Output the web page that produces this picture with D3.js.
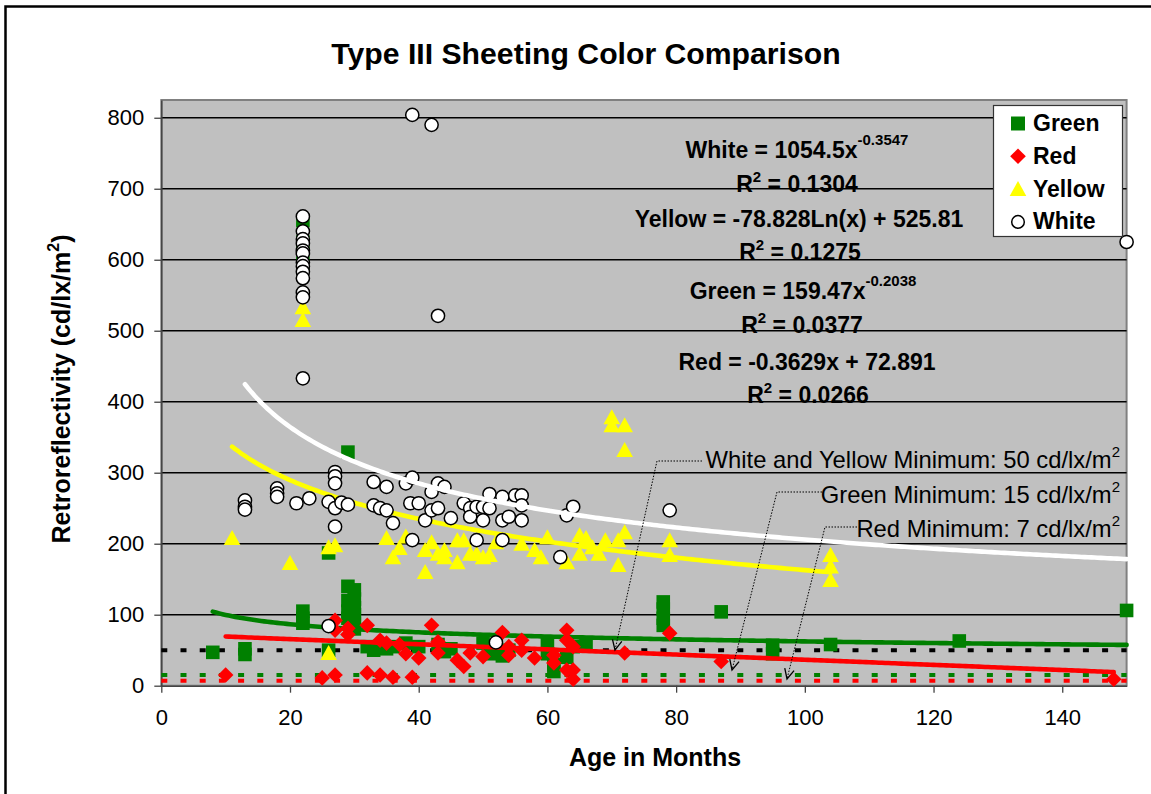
<!DOCTYPE html>
<html>
<head>
<meta charset="utf-8">
<script src="https://cdn.jsdelivr.net/npm/d3@7"></script>
<style>
  body { margin: 0; background: #fff; }
</style>
</head>
<body>
<script>
// Data: [age in months, retroreflectivity]
const greenPts = [
  [8, 47], [13, 52], [13, 44], [22, 105], [22, 95], [22, 88], [22, 655], [22, 625], [22, 595],
  [26, 187], [26, 50], [29, 329], [29, 140], [29, 120], [29, 105], [29, 95],
  [30, 135], [30, 122], [30, 110], [30, 100], [30, 88], [30, 80],
  [32, 55], [33, 50], [35, 52], [36, 55], [38, 60], [40, 55], [43, 58], [44, 48], [45, 52],
  [50, 60], [51, 45], [53, 42], [54, 50], [60, 60], [60, 45], [61, 30], [61, 20],
  [63, 40], [64, 55], [66, 60], [78, 118], [78, 108], [78, 95], [78, 85], [87, 104],
  [95, 57], [95, 45], [104, 58], [124, 63], [150, 106]
];
const redPts = [
  [10, 15], [25, 11], [27, 15], [27, 92], [27, 78], [29, 81], [29, 72], [32, 85], [32, 18],
  [34, 64], [34, 15], [35, 60], [36, 12], [37, 58], [38, 45], [39, 12], [40, 39], [42, 85],
  [43, 62], [43, 46], [46, 36], [47, 27], [48, 46], [50, 41], [53, 75], [54, 55], [54, 43],
  [56, 64], [56, 50], [58, 39], [61, 43], [61, 32], [63, 78], [63, 64], [64, 55], [63, 22],
  [64, 22], [64, 9], [72, 46], [79, 74], [87, 34], [148, 9]
];
const yellowPts = [
  [11, 208], [20, 173], [22, 533], [22, 515], [26, 195], [27, 198], [26, 46], [35, 208],
  [36, 181], [37, 194], [38, 210], [41, 160], [41, 191], [42, 202], [43, 186], [44, 181],
  [44, 191], [46, 174], [46, 205], [47, 205], [48, 186], [49, 186], [50, 181], [51, 184],
  [52, 202], [56, 200], [58, 191], [59, 181], [60, 209], [63, 174], [65, 212], [65, 186],
  [66, 208], [67, 195], [68, 186], [69, 205], [71, 170], [71, 205], [72, 216], [70, 378],
  [70, 367], [72, 367], [72, 332], [79, 205], [79, 184], [104, 184], [104, 168], [104, 149]
];
const whitePts = [
  [13, 261], [13, 252], [13, 248], [18, 278], [18, 271], [18, 266], [21, 257], [23, 264],
  [22, 661], [22, 640], [22, 629], [22, 623], [22, 613], [22, 609], [22, 596], [22, 591],
  [22, 583], [22, 574], [22, 554], [22, 547], [22, 433],
  [26, 84], [26, 259], [27, 301], [27, 295], [27, 285], [27, 250], [27, 224], [28, 258], [29, 255],
  [33, 287], [33, 254], [34, 250], [35, 280], [35, 247], [36, 229], [38, 285], [39, 293],
  [38.7, 257], [40, 257], [39, 205], [41, 233], [42, 273], [42, 247], [43, 285], [43, 250],
  [44, 280], [45, 236], [39, 804], [42, 790], [43, 521],
  [47, 257], [48, 250], [48, 238], [49, 252], [49, 205], [50, 252], [50, 233], [51, 270],
  [51, 250], [52, 61], [53, 266], [53, 233], [53, 205], [54, 238], [55, 268], [56, 268],
  [56, 254], [56, 233], [62, 181], [63, 240], [64, 252], [79, 247], [150, 625]
];

// Trendline equations shown on the chart
const whiteTrend = { kind: "power", a: 1054.5, b: -0.3547, from: 13, to: 150 };
const yellowTrend = { kind: "log", a: -78.828, b: 525.81, from: 11, to: 104 };
const greenTrend = { kind: "power", a: 159.47, b: -0.2038, from: 8, to: 150 };
const redTrend = { kind: "linear", a: -0.3629, b: 72.891, from: 10, to: 148 };

const minimums = [
  { label: "White and Yellow Minimum: 50 cd/lx/m", value: 50, color: "#000" },
  { label: "Green Minimum: 15 cd/lx/m", value: 15, color: "#008000" },
  { label: "Red Minimum: 7 cd/lx/m", value: 7, color: "#ff0000" }
];

const xTicks = [0, 20, 40, 60, 80, 100, 120, 140];
const yTicks = [0, 100, 200, 300, 400, 500, 600, 700, 800];

const W = 1151, H = 794;
const FONT = "'Liberation Sans', Arial, Helvetica, sans-serif";
const plot = { left: 161.3, right: 1126.6, top: 100, bottom: 685.7 };

const svg = d3.select("body").append("svg")
  .attr("width", W)
  .attr("height", H)
  .style("font-family", FONT);

svg.append("rect").attr("width", W).attr("height", H).attr("fill", "#fff");
// chart frame (runs off the right and bottom of the picture)
svg.append("rect")
  .attr("x", 5.5).attr("y", 6.5).attr("width", 1200).attr("height", 900)
  .attr("fill", "none").attr("stroke", "#000").attr("stroke-width", 2.5);

const x = d3.scaleLinear().domain([0, 150]).range([plot.left, plot.right]);
const y = d3.scaleLinear().domain([0, 825]).range([plot.bottom, plot.top]);

svg.append("rect")
  .attr("x", plot.left).attr("y", plot.top)
  .attr("width", plot.right - plot.left).attr("height", plot.bottom - plot.top)
  .attr("fill", "#c0c0c0").attr("stroke", "#808080").attr("stroke-width", 2);

// gridlines
svg.append("g").selectAll("line")
  .data(yTicks.filter(d => d > 0))
  .join("line")
  .attr("x1", plot.left).attr("x2", plot.right)
  .attr("y1", d => y(d)).attr("y2", d => y(d))
  .attr("stroke", "#000").attr("stroke-width", 1.6);

// axes
const yAxis = svg.append("g")
  .attr("transform", `translate(${plot.left},0)`)
  .call(d3.axisLeft(y).tickValues(yTicks).tickSize(7).tickSizeOuter(0).tickPadding(10));
const xAxis = svg.append("g")
  .attr("transform", `translate(0,${plot.bottom})`)
  .call(d3.axisBottom(x).tickValues(xTicks).tickSize(7).tickSizeOuter(0).tickPadding(17));
[xAxis, yAxis].forEach(g => {
  g.attr("font-family", FONT).attr("font-size", 22);
  g.select(".domain").attr("stroke", "#444").attr("stroke-width", 1.5);
  g.selectAll(".tick line").attr("stroke", "#444").attr("stroke-width", 1.3);
  g.selectAll(".tick text").attr("fill", "#000");
});

// minimum lines
svg.append("g").selectAll("line")
  .data(minimums)
  .join("line")
  .attr("x1", x(0)).attr("x2", x(150))
  .attr("y1", d => y(d.value)).attr("y2", d => y(d.value))
  .attr("stroke", d => d.color).attr("stroke-width", 4)
  .attr("stroke-dasharray", "6,13.2");

// markers
const squarePath = "M-6.8,-6.8H6.8V6.8H-6.8Z";
const diamondPath = "M0,-7.8L7.8,0L0,7.8L-7.8,0Z";
const trianglePath = "M0,-8L8.3,7H-8.3Z";

function trendPoints(t) {
  const f = t.kind === "power" ? v => t.a * Math.pow(v, t.b)
    : t.kind === "log" ? v => t.a * Math.log(v) + t.b
    : v => t.a * v + t.b;
  return d3.range(t.from, t.to, 0.5).concat([t.to]).map(v => [v, f(v)]);
}
const line = d3.line().x(d => x(d[0])).y(d => y(d[1]));

function drawTrend(t, color) {
  svg.append("path")
    .attr("d", line(trendPoints(t)))
    .attr("fill", "none").attr("stroke", color)
    .attr("stroke-width", 4.6).attr("stroke-linecap", "round");
}

svg.append("g").selectAll("path").data(greenPts).join("path")
  .attr("d", squarePath).attr("fill", "#008000")
  .attr("transform", d => `translate(${x(d[0])},${y(d[1])})`);
drawTrend(greenTrend, "#008000");

svg.append("g").selectAll("path").data(redPts).join("path")
  .attr("d", diamondPath).attr("fill", "#ff0000")
  .attr("transform", d => `translate(${x(d[0])},${y(d[1])})`);
drawTrend(redTrend, "#ff0000");

svg.append("g").selectAll("path").data(yellowPts).join("path")
  .attr("d", trianglePath).attr("fill", "#ffff00")
  .attr("transform", d => `translate(${x(d[0])},${y(d[1])})`);
drawTrend(yellowTrend, "#ffff00");

svg.append("g").selectAll("circle").data(whitePts).join("circle")
  .attr("cx", d => x(d[0])).attr("cy", d => y(d[1])).attr("r", 6.6)
  .attr("fill", "#fff").attr("stroke", "#000").attr("stroke-width", 1.5);
drawTrend(whiteTrend, "#fff");

// equation labels
const eqLines = [
  { cx: 797, by: 158, parts: [["White = 1054.5x"], ["-0.3547", "sup"]] },
  { cx: 797, by: 192, parts: [["R"], ["2", "sq"], [" = 0.1304"]] },
  { cx: 799, by: 227, parts: [["Yellow = -78.828Ln(x) + 525.81"]] },
  { cx: 800, by: 260, parts: [["R"], ["2", "sq"], [" = 0.1275"]] },
  { cx: 803, by: 299, parts: [["Green = 159.47x"], ["-0.2038", "sup"]] },
  { cx: 802, by: 333, parts: [["R"], ["2", "sq"], [" = 0.0377"]] },
  { cx: 807, by: 370, parts: [["Red = -0.3629x + 72.891"]] },
  { cx: 808, by: 403, parts: [["R"], ["2", "sq"], [" = 0.0266"]] }
];
eqLines.forEach(l => {
  const t = svg.append("text")
    .attr("x", l.cx).attr("y", l.by)
    .attr("text-anchor", "middle")
    .attr("font-weight", "bold").attr("font-size", 23).attr("fill", "#000");
  let shift = 0;
  l.parts.forEach(([s, k]) => {
    const up = k === "sup" ? 13 : k === "sq" ? 10 : 0;
    t.append("tspan")
      .attr("dy", shift - up)
      .attr("font-size", k ? 15 : 23)
      .text(s);
    shift = up;
  });
});

// minimum callouts: label, dotted leader and open arrow
const callouts = [
  { textEnd: 1112, by: 468, elbow: [657, 461], lineEnd: 702, tip: [615, 650] },
  { textEnd: 1112, by: 503, elbow: [777, 492], lineEnd: 822, tip: [732, 670] },
  { textEnd: 1112, by: 537, elbow: [825, 527], lineEnd: 857, tip: [787, 679] }
];
callouts.forEach((c, i) => {
  const t = svg.append("text")
    .attr("x", c.textEnd).attr("y", c.by)
    .attr("text-anchor", "end").attr("font-size", 23.8).attr("fill", "#000");
  t.append("tspan").text(minimums[i].label);
  t.append("tspan").attr("dy", -11).attr("font-size", 15).text("2");
  t.attr("transform", "translate(8,0)");

  svg.append("path")
    .attr("d", `M${c.lineEnd},${c.elbow[1]}H${c.elbow[0]}L${c.tip[0]},${c.tip[1]}`)
    .attr("fill", "none").attr("stroke", "#000").attr("stroke-width", 1)
    .attr("stroke-dasharray", "1.5,1.5");
  const ang = Math.atan2(c.tip[1] - c.elbow[1], c.tip[0] - c.elbow[0]);
  const len = 11, spread = 0.45;
  const p1 = [c.tip[0] - len * Math.cos(ang - spread), c.tip[1] - len * Math.sin(ang - spread)];
  const p2 = [c.tip[0] - len * Math.cos(ang + spread), c.tip[1] - len * Math.sin(ang + spread)];
  svg.append("path")
    .attr("d", `M${p1}L${c.tip}L${p2}`)
    .attr("fill", "none").attr("stroke", "#000").attr("stroke-width", 1.3);
});

// legend
const legendItems = [
  { name: "Green", shape: "square" },
  { name: "Red", shape: "diamond" },
  { name: "Yellow", shape: "triangle" },
  { name: "White", shape: "circle" }
];
const lg = svg.append("g");
lg.append("rect")
  .attr("x", 993.5).attr("y", 105.5).attr("width", 129).attr("height", 131)
  .attr("fill", "#fff").attr("stroke", "#333").attr("stroke-width", 1.2);
legendItems.forEach((it, i) => {
  const cy = 123.5 + i * 32.8;
  const g = lg.append("g").attr("transform", `translate(1018,${cy})`);
  if (it.shape === "square") g.append("path").attr("d", "M-7,-7H7V7H-7Z").attr("fill", "#008000");
  if (it.shape === "diamond") g.append("path").attr("d", diamondPath).attr("fill", "#ff0000");
  if (it.shape === "triangle") g.append("path").attr("d", trianglePath).attr("fill", "#ffff00");
  if (it.shape === "circle") g.append("circle").attr("r", 6.3).attr("fill", "#fff")
    .attr("stroke", "#000").attr("stroke-width", 1.5);
  lg.append("text")
    .attr("x", 1033).attr("y", cy + 7.5)
    .attr("font-size", 23).attr("font-weight", "bold").attr("fill", "#000")
    .text(it.name);
});

// titles
svg.append("text")
  .attr("x", 586).attr("y", 64)
  .attr("text-anchor", "middle").attr("font-size", 30.2).attr("font-weight", "bold")
  .text("Type III Sheeting Color Comparison");

svg.append("text")
  .attr("x", 655).attr("y", 766)
  .attr("text-anchor", "middle").attr("font-size", 25).attr("font-weight", "bold")
  .text("Age in Months");

const yt = svg.append("text")
  .attr("transform", "translate(70,389) rotate(-90)")
  .attr("text-anchor", "middle").attr("font-size", 25).attr("font-weight", "bold");
yt.append("tspan").text("Retroreflectivity (cd/lx/m");
yt.append("tspan").attr("dy", -11).attr("font-size", 16).text("2");
yt.append("tspan").attr("dy", 11).text(")");
</script>
</body>
</html>
